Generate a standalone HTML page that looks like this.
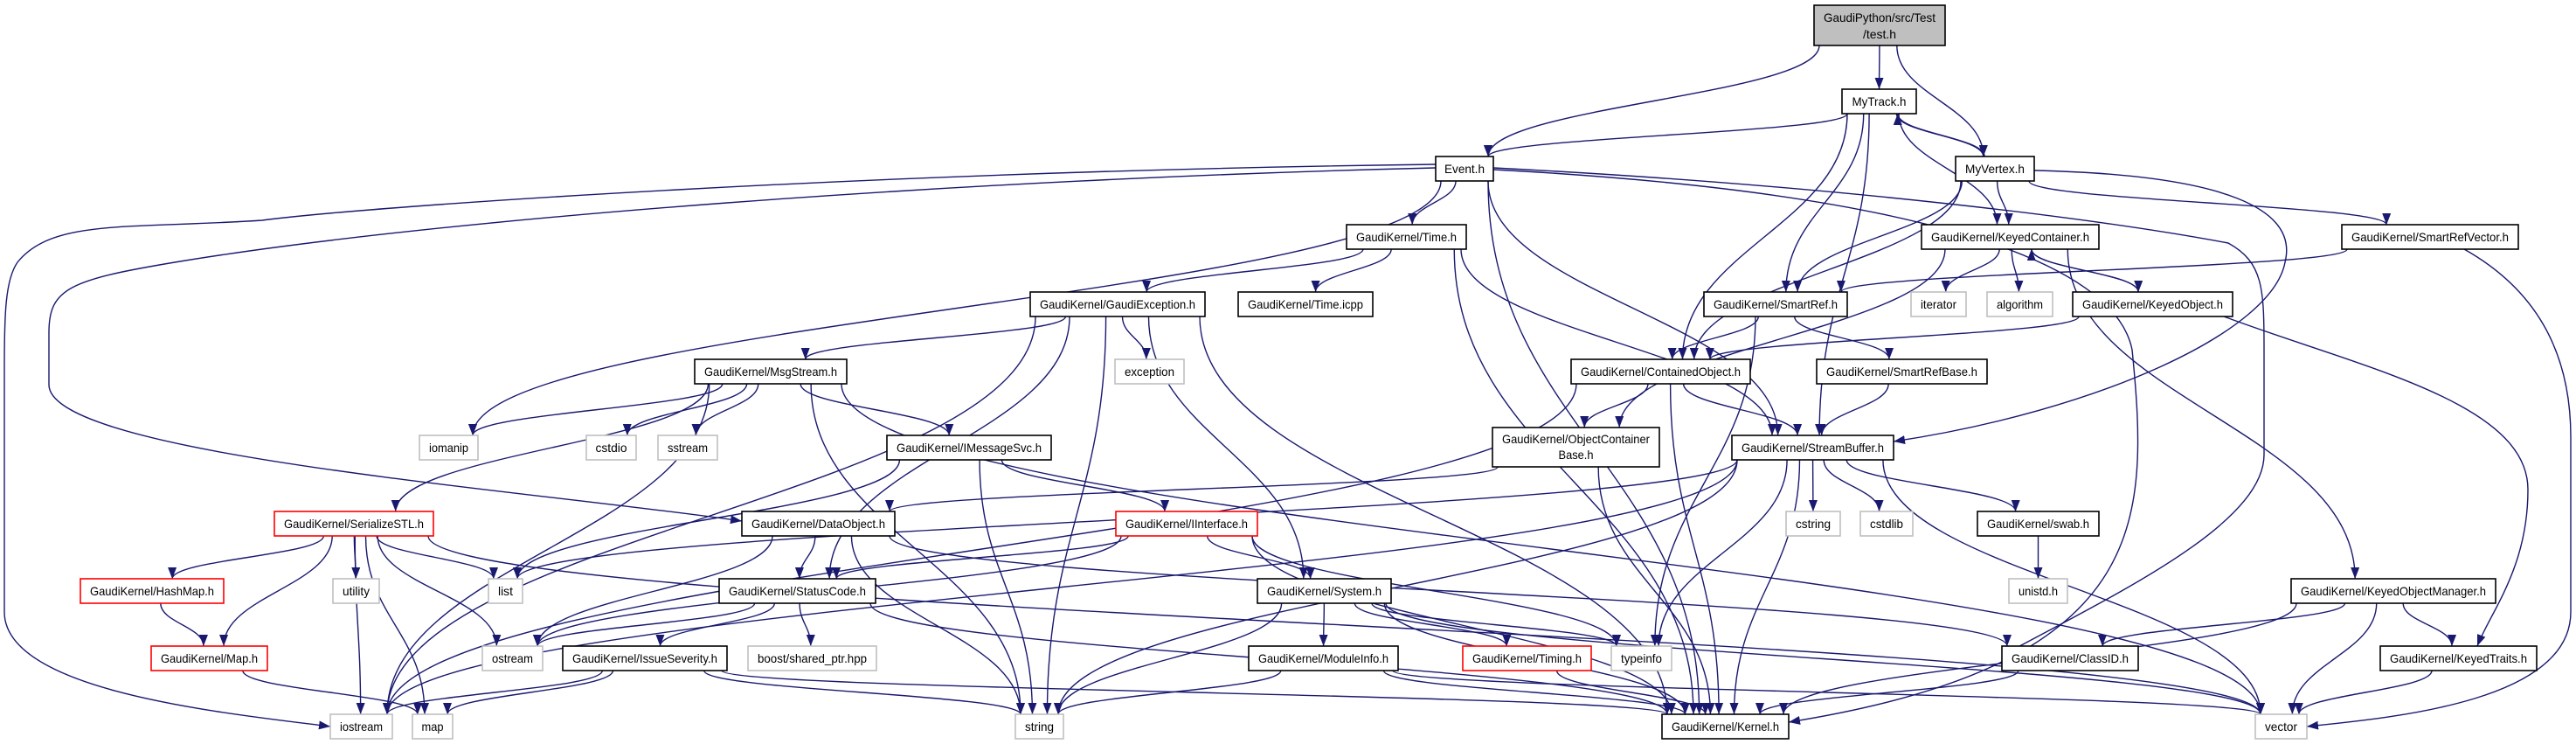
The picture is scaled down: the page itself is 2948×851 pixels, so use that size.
<!DOCTYPE html>
<html><head><meta charset="utf-8"><style>
html,body{margin:0;padding:0;background:#fff;}
svg{display:block;}
text{font-family:"Liberation Sans",sans-serif;font-size:14px;fill:#000;}
</style></head><body>
<svg id="g" width="2948" height="851" viewBox="0 0 2948 851" xmlns="http://www.w3.org/2000/svg">
<defs><marker id="ah" markerUnits="userSpaceOnUse" markerWidth="14" markerHeight="10" refX="13" refY="5" orient="auto"><path d="M0,0 L13,5 L0,10 Z" fill="#191970"/></marker></defs>
<g id="edges" fill="none" stroke="#191970" stroke-width="1.4"></g>
<g id="nodes" stroke-width="1.6">
<rect x="2076" y="6" width="150" height="46" fill="#bfbfbf" stroke="#000"/>
<text x="2151" y="25" text-anchor="middle" textLength="128" lengthAdjust="spacingAndGlyphs">GaudiPython/src/Test</text>
<text x="2151" y="44" text-anchor="middle" textLength="38" lengthAdjust="spacingAndGlyphs">/test.h</text>
<rect x="2108" y="102" width="85" height="28" fill="#fff" stroke="#000"/><text x="2150.5" y="121" text-anchor="middle" textLength="62" lengthAdjust="spacingAndGlyphs">MyTrack.h</text>
<rect x="1643" y="179" width="66" height="28" fill="#fff" stroke="#000"/><text x="1676" y="198" text-anchor="middle" textLength="46" lengthAdjust="spacingAndGlyphs">Event.h</text>
<rect x="2238" y="179" width="90" height="28" fill="#fff" stroke="#000"/><text x="2283" y="198" text-anchor="middle" textLength="68" lengthAdjust="spacingAndGlyphs">MyVertex.h</text>
<rect x="1541" y="257" width="137" height="28" fill="#fff" stroke="#000"/><text x="1609.5" y="276" text-anchor="middle" textLength="115" lengthAdjust="spacingAndGlyphs">GaudiKernel/Time.h</text>
<rect x="2199" y="257" width="203" height="28" fill="#fff" stroke="#000"/><text x="2300.5" y="276" text-anchor="middle" textLength="181" lengthAdjust="spacingAndGlyphs">GaudiKernel/KeyedContainer.h</text>
<rect x="2680" y="257" width="202" height="28" fill="#fff" stroke="#000"/><text x="2781" y="276" text-anchor="middle" textLength="180" lengthAdjust="spacingAndGlyphs">GaudiKernel/SmartRefVector.h</text>
<rect x="1179" y="334" width="200" height="28" fill="#fff" stroke="#000"/><text x="1279" y="353" text-anchor="middle" textLength="178" lengthAdjust="spacingAndGlyphs">GaudiKernel/GaudiException.h</text>
<rect x="1417" y="334" width="154" height="28" fill="#fff" stroke="#000"/><text x="1494" y="353" text-anchor="middle" textLength="132" lengthAdjust="spacingAndGlyphs">GaudiKernel/Time.icpp</text>
<rect x="1950" y="334" width="164" height="28" fill="#fff" stroke="#000"/><text x="2032" y="353" text-anchor="middle" textLength="142" lengthAdjust="spacingAndGlyphs">GaudiKernel/SmartRef.h</text>
<rect x="2187" y="334" width="63" height="28" fill="#fff" stroke="#bfbfbf"/><text x="2218.5" y="353" text-anchor="middle" textLength="41" lengthAdjust="spacingAndGlyphs">iterator</text>
<rect x="2274" y="334" width="75" height="28" fill="#fff" stroke="#bfbfbf"/><text x="2311.5" y="353" text-anchor="middle" textLength="53" lengthAdjust="spacingAndGlyphs">algorithm</text>
<rect x="2372" y="334" width="183" height="28" fill="#fff" stroke="#000"/><text x="2463.5" y="353" text-anchor="middle" textLength="161" lengthAdjust="spacingAndGlyphs">GaudiKernel/KeyedObject.h</text>
<rect x="795" y="411" width="174" height="28" fill="#fff" stroke="#000"/><text x="882" y="430" text-anchor="middle" textLength="152" lengthAdjust="spacingAndGlyphs">GaudiKernel/MsgStream.h</text>
<rect x="1276" y="411" width="79" height="28" fill="#fff" stroke="#bfbfbf"/><text x="1315.5" y="430" text-anchor="middle" textLength="57" lengthAdjust="spacingAndGlyphs">exception</text>
<rect x="1798" y="411" width="205" height="28" fill="#fff" stroke="#000"/><text x="1900.5" y="430" text-anchor="middle" textLength="183" lengthAdjust="spacingAndGlyphs">GaudiKernel/ContainedObject.h</text>
<rect x="2079" y="411" width="195" height="28" fill="#fff" stroke="#000"/><text x="2176.5" y="430" text-anchor="middle" textLength="173" lengthAdjust="spacingAndGlyphs">GaudiKernel/SmartRefBase.h</text>
<rect x="480" y="498" width="67" height="28" fill="#fff" stroke="#bfbfbf"/><text x="513.5" y="517" text-anchor="middle" textLength="45" lengthAdjust="spacingAndGlyphs">iomanip</text>
<rect x="671" y="498" width="57" height="28" fill="#fff" stroke="#bfbfbf"/><text x="699.5" y="517" text-anchor="middle" textLength="36" lengthAdjust="spacingAndGlyphs">cstdio</text>
<rect x="753" y="498" width="68" height="28" fill="#fff" stroke="#bfbfbf"/><text x="787" y="517" text-anchor="middle" textLength="46" lengthAdjust="spacingAndGlyphs">sstream</text>
<rect x="1015" y="498" width="188" height="28" fill="#fff" stroke="#000"/><text x="1109" y="517" text-anchor="middle" textLength="166" lengthAdjust="spacingAndGlyphs">GaudiKernel/IMessageSvc.h</text>
<rect x="1708" y="489" width="191" height="45" fill="#fff" stroke="#000"/>
<text x="1803.5" y="507" text-anchor="middle" textLength="169" lengthAdjust="spacingAndGlyphs">GaudiKernel/ObjectContainer</text>
<text x="1803.5" y="525" text-anchor="middle" textLength="40" lengthAdjust="spacingAndGlyphs">Base.h</text>
<rect x="1982" y="498" width="185" height="28" fill="#fff" stroke="#000"/><text x="2074.5" y="517" text-anchor="middle" textLength="163" lengthAdjust="spacingAndGlyphs">GaudiKernel/StreamBuffer.h</text>
<rect x="314" y="585" width="182" height="28" fill="#fff" stroke="#ff0000"/><text x="405" y="604" text-anchor="middle" textLength="160" lengthAdjust="spacingAndGlyphs">GaudiKernel/SerializeSTL.h</text>
<rect x="849" y="585" width="175" height="28" fill="#fff" stroke="#000"/><text x="936.5" y="604" text-anchor="middle" textLength="153" lengthAdjust="spacingAndGlyphs">GaudiKernel/DataObject.h</text>
<rect x="1277" y="585" width="162" height="28" fill="#fff" stroke="#ff0000"/><text x="1358" y="604" text-anchor="middle" textLength="140" lengthAdjust="spacingAndGlyphs">GaudiKernel/IInterface.h</text>
<rect x="2044" y="585" width="62" height="28" fill="#fff" stroke="#bfbfbf"/><text x="2075" y="604" text-anchor="middle" textLength="40" lengthAdjust="spacingAndGlyphs">cstring</text>
<rect x="2129" y="585" width="60" height="28" fill="#fff" stroke="#bfbfbf"/><text x="2159" y="604" text-anchor="middle" textLength="38" lengthAdjust="spacingAndGlyphs">cstdlib</text>
<rect x="2263" y="585" width="139" height="28" fill="#fff" stroke="#000"/><text x="2332.5" y="604" text-anchor="middle" textLength="117" lengthAdjust="spacingAndGlyphs">GaudiKernel/swab.h</text>
<rect x="92" y="662" width="164" height="28" fill="#fff" stroke="#ff0000"/><text x="174" y="681" text-anchor="middle" textLength="142" lengthAdjust="spacingAndGlyphs">GaudiKernel/HashMap.h</text>
<rect x="381" y="662" width="53" height="28" fill="#fff" stroke="#bfbfbf"/><text x="407.5" y="681" text-anchor="middle" textLength="31" lengthAdjust="spacingAndGlyphs">utility</text>
<rect x="559" y="662" width="39" height="28" fill="#fff" stroke="#bfbfbf"/><text x="578.5" y="681" text-anchor="middle" textLength="17" lengthAdjust="spacingAndGlyphs">list</text>
<rect x="823" y="662" width="179" height="28" fill="#fff" stroke="#000"/><text x="912.5" y="681" text-anchor="middle" textLength="157" lengthAdjust="spacingAndGlyphs">GaudiKernel/StatusCode.h</text>
<rect x="1439" y="662" width="153" height="28" fill="#fff" stroke="#000"/><text x="1515.5" y="681" text-anchor="middle" textLength="131" lengthAdjust="spacingAndGlyphs">GaudiKernel/System.h</text>
<rect x="2299" y="662" width="67" height="28" fill="#fff" stroke="#bfbfbf"/><text x="2332.5" y="681" text-anchor="middle" textLength="45" lengthAdjust="spacingAndGlyphs">unistd.h</text>
<rect x="2622" y="662" width="234" height="28" fill="#fff" stroke="#000"/><text x="2739" y="681" text-anchor="middle" textLength="212" lengthAdjust="spacingAndGlyphs">GaudiKernel/KeyedObjectManager.h</text>
<rect x="173" y="739" width="133" height="28" fill="#fff" stroke="#ff0000"/><text x="239.5" y="758" text-anchor="middle" textLength="111" lengthAdjust="spacingAndGlyphs">GaudiKernel/Map.h</text>
<rect x="552" y="739" width="69" height="28" fill="#fff" stroke="#bfbfbf"/><text x="586.5" y="758" text-anchor="middle" textLength="47" lengthAdjust="spacingAndGlyphs">ostream</text>
<rect x="644" y="739" width="188" height="28" fill="#fff" stroke="#000"/><text x="738" y="758" text-anchor="middle" textLength="166" lengthAdjust="spacingAndGlyphs">GaudiKernel/IssueSeverity.h</text>
<rect x="856" y="739" width="147" height="28" fill="#fff" stroke="#bfbfbf"/><text x="929.5" y="758" text-anchor="middle" textLength="125" lengthAdjust="spacingAndGlyphs">boost/shared_ptr.hpp</text>
<rect x="1429" y="739" width="171" height="28" fill="#fff" stroke="#000"/><text x="1514.5" y="758" text-anchor="middle" textLength="149" lengthAdjust="spacingAndGlyphs">GaudiKernel/ModuleInfo.h</text>
<rect x="1674" y="739" width="147" height="28" fill="#fff" stroke="#ff0000"/><text x="1747.5" y="758" text-anchor="middle" textLength="125" lengthAdjust="spacingAndGlyphs">GaudiKernel/Timing.h</text>
<rect x="1844" y="739" width="69" height="28" fill="#fff" stroke="#bfbfbf"/><text x="1878.5" y="758" text-anchor="middle" textLength="47" lengthAdjust="spacingAndGlyphs">typeinfo</text>
<rect x="2291" y="739" width="156" height="28" fill="#fff" stroke="#000"/><text x="2369" y="758" text-anchor="middle" textLength="134" lengthAdjust="spacingAndGlyphs">GaudiKernel/ClassID.h</text>
<rect x="2724" y="739" width="179" height="28" fill="#fff" stroke="#000"/><text x="2813.5" y="758" text-anchor="middle" textLength="157" lengthAdjust="spacingAndGlyphs">GaudiKernel/KeyedTraits.h</text>
<rect x="378" y="817" width="71" height="28" fill="#fff" stroke="#bfbfbf"/><text x="413.5" y="836" text-anchor="middle" textLength="49" lengthAdjust="spacingAndGlyphs">iostream</text>
<rect x="472" y="817" width="46" height="28" fill="#fff" stroke="#bfbfbf"/><text x="495" y="836" text-anchor="middle" textLength="25" lengthAdjust="spacingAndGlyphs">map</text>
<rect x="1162" y="817" width="55" height="28" fill="#fff" stroke="#bfbfbf"/><text x="1189.5" y="836" text-anchor="middle" textLength="33" lengthAdjust="spacingAndGlyphs">string</text>
<rect x="1902" y="817" width="145" height="28" fill="#fff" stroke="#000"/><text x="1974.5" y="836" text-anchor="middle" textLength="123" lengthAdjust="spacingAndGlyphs">GaudiKernel/Kernel.h</text>
<rect x="2581" y="817" width="59" height="28" fill="#fff" stroke="#bfbfbf"/><text x="2610.5" y="836" text-anchor="middle" textLength="37" lengthAdjust="spacingAndGlyphs">vector</text>
</g>
</svg>
<script>
var R={A:[6,52],B:[102,130],C:[179,207],D:[257,285],E:[334,362],F:[411,439],G:[498,526],H:[585,613],I:[662,690],J:[739,767],K:[817,845]};
var N={root:[2076,2226,'A'],mytrack:[2108,2193,'B'],event:[1643,1709,'C'],myvertex:[2238,2328,'C'],time:[1541,1678,'D'],kc:[2199,2402,'D'],srv:[2680,2882,'D'],gexc:[1179,1379,'E'],ticpp:[1417,1571,'E'],sref:[1950,2114,'E'],iter:[2187,2250,'E'],algo:[2274,2349,'E'],kobj:[2372,2555,'E'],msg:[795,969,'F'],exc:[1276,1355,'F'],cobj:[1798,2003,'F'],srb:[2079,2274,'F'],iomanip:[480,547,'G'],cstdio:[671,728,'G'],sstream:[753,821,'G'],imsg:[1015,1203,'G'],ocb:[1708,1899,'G'],sbuf:[1982,2167,'G'],ser:[314,496,'H'],dobj:[849,1024,'H'],iint:[1277,1439,'H'],cstring:[2044,2106,'H'],cstdlib:[2129,2189,'H'],swab:[2263,2402,'H'],hash:[92,256,'I'],util:[381,434,'I'],list:[559,598,'I'],sc:[823,1002,'I'],sys:[1439,1592,'I'],unistd:[2299,2366,'I'],kom:[2622,2856,'I'],maph:[173,306,'J'],ostream:[552,621,'J'],issue:[644,832,'J'],boost:[856,1003,'J'],modinfo:[1429,1600,'J'],timing:[1674,1821,'J'],typeinfo:[1844,1913,'J'],classid:[2291,2447,'J'],ktraits:[2724,2903,'J'],iostream:[378,449,'K'],map:[472,518,'K'],string:[1162,1217,'K'],kernel:[1902,2047,'K'],vector:[2581,2640,'K']};
function B(id){var n=N[id],y=R[n[2]];if(id=='ocb')y=[489,534];return{x1:n[0],x2:n[1],y1:y[0],y2:y[1],cx:(n[0]+n[1])/2,cy:(y[0]+y[1])/2,w:n[1]-n[0]};}
function cl(v,a){return Math.max(-a,Math.min(a,v));}
var E=[['root','event'],['root','mytrack'],['root','myvertex'],
['mytrack','event'],['mytrack','myvertex'],['mytrack','kc'],['mytrack','sref'],['mytrack','cobj'],['mytrack','sbuf'],
['myvertex','mytrack'],['myvertex','kc'],['myvertex','srv'],['myvertex','sref'],['myvertex','cobj'],
['event','iomanip'],['event','time'],['event','sbuf'],['event','kernel'],
['time','gexc'],['time','ticpp'],['time','sbuf'],['time','kernel'],
['gexc','msg'],['gexc','exc'],['gexc','string'],['gexc','sys'],['gexc','kernel'],['gexc','sc'],['gexc','iostream'],
['msg','iomanip'],['msg','cstdio'],['msg','sstream'],['msg','ser'],['msg','imsg'],['msg','string'],['msg','vector'],['msg','iostream'],
['imsg','iint'],['imsg','string'],['imsg','list'],
['ser','hash'],['ser','maph'],['ser','util'],['ser','list'],['ser','ostream'],['ser','iostream'],['ser','map'],['ser','vector'],
['hash','maph'],['maph','map'],
['dobj','sc'],['dobj','ostream'],['dobj','string'],['dobj','classid'],
['iint','sys'],['iint','sc'],['iint','ostream'],['iint','typeinfo'],['iint','kernel'],
['sc','ostream'],['sc','issue'],['sc','boost'],['sc','kernel'],
['issue','iostream'],['issue','map'],['issue','string'],['issue','kernel'],
['sys','modinfo'],['sys','timing'],['sys','typeinfo'],['sys','string'],['sys','kernel'],['sys','vector'],
['modinfo','string'],['modinfo','kernel'],['modinfo','vector'],['timing','kernel'],
['kc','iter'],['kc','algo'],['kc','kobj'],['kc','ocb'],['kc','kom'],
['kobj','kc'],['kobj','cobj'],
['srv','sref'],
['sref','cobj'],['sref','srb'],['sref','typeinfo'],
['srb','sbuf'],
['cobj','ocb'],['cobj','sbuf'],['cobj','iostream'],['cobj','kernel'],
['ocb','dobj'],['ocb','kernel'],
['sbuf','cstring'],['sbuf','cstdlib'],['sbuf','swab'],['sbuf','list'],['sbuf','string'],['sbuf','iostream'],['sbuf','typeinfo'],['sbuf','vector'],['sbuf','kernel'],
['swab','unistd'],
['kom','classid'],['kom','vector'],['kom','kernel'],['kom','ktraits'],
['classid','kernel'],['ktraits','vector']];
var P=[
'M1643,188 C1000,196 420,236 300,252 C150,262 60,250 20,300 C6,320 5,360 5,420 L5,700 C5,790 250,815 378,831',
'M1643,192 C1100,205 500,250 200,300 C80,320 56,330 56,380 L56,440 C56,520 600,560 849,596',
'M1709,192 C2100,212 2400,250 2550,278 C2590,300 2591,330 2591,400 L2591,520 C2591,600 2420,680 2291,750',
'M2328,195 C2550,200 2630,240 2615,300 C2600,380 2400,470 2167,505',
'M2820,285 C2900,330 2942,400 2942,500 L2942,700 C2942,800 2750,820 2640,831',
'M2545,362 C2700,420 2893,460 2893,560 C2893,650 2850,700 2835,739',
'M1709,194 C2200,220 2420,300 2440,400 C2460,600 2460,760 2047,826'];
var g=document.getElementById('edges'),s='';
E.forEach(function(e){var a=B(e[0]),b=B(e[1]),d;
if(b.y1>=a.y2-2){var sx=a.cx+cl((b.cx-a.cx)*0.15,a.w/2-6),tx=b.cx+cl((a.cx-b.cx)*0.1,b.w/2-6),sy=a.y2,ty=b.y1,dy=ty-sy;
d='M'+sx+','+sy+' C'+sx+','+(sy+dy*0.45)+' '+tx+','+(ty-dy*0.45)+' '+tx+','+ty;}
else if(b.y2<=a.y1+2){var sx=a.cx+cl((b.cx-a.cx)*0.15,a.w/2-6)+8,tx=b.cx+cl((a.cx-b.cx)*0.1,b.w/2-6)+8,sy=a.y1,ty=b.y2,dy=sy-ty;
d='M'+sx+','+sy+' C'+sx+','+(sy-dy*0.45)+' '+tx+','+(ty+dy*0.45)+' '+tx+','+ty;}
else{var r=b.cx>a.cx,sx=r?a.x2:a.x1,tx=r?b.x1:b.x2;d='M'+sx+','+a.cy+' L'+tx+','+b.cy;}
s+='<path d="'+d+'" marker-end="url(#ah)"/>';});
P.forEach(function(d){s+='<path d="'+d+'" marker-end="url(#ah)"/>';});
g.innerHTML=s;
</script>
</body></html>
